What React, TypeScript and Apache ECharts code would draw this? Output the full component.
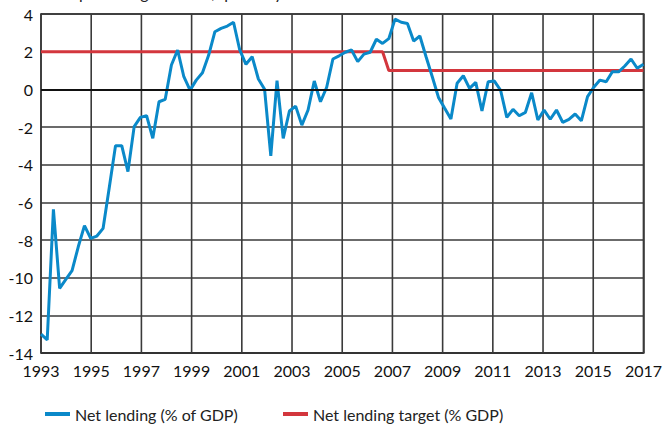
import React, { useEffect, useRef } from "react";
import * as echarts from "echarts";

const yearLabels = ["1993","1995","1997","1999","2001","2003","2005","2007","2009","2011","2013","2015","2017"];

const netLending = [
  -13.0, -13.3, -6.37, -10.57, -10.09, -9.63, -8.36, -7.24,
  -7.91, -7.79, -7.38, -5.2, -2.99, -2.99, -4.37, -1.98,
  -1.49, -1.4, -2.6, -0.66, -0.53, 1.29, 2.09, 0.67,
  -0.04, 0.49, 0.88, 1.82, 3.06, 3.24, 3.36, 3.56,
  2.09, 1.33, 1.73, 0.55, 0.0, -3.53, 0.46, -2.6,
  -1.15, -0.89, -1.9, -1.1, 0.44, -0.66, 0.11, 1.61,
  1.78, 1.97, 2.09, 1.47, 1.87, 1.97, 2.66, 2.44,
  2.69, 3.73, 3.56, 3.5, 2.56, 2.83, 1.73, 0.67,
  -0.43, -1.01, -1.58, 0.32, 0.72, 0.05, 0.37, -1.15,
  0.4, 0.44, -0.05, -1.49, -1.06, -1.4, -1.22, -0.18,
  -1.63, -1.1, -1.59, -1.1, -1.75, -1.59, -1.31, -1.67,
  -0.39, 0.11, 0.49, 0.4, 0.93, 0.93, 1.24, 1.61,
  1.12, 1.33,
];

const lendingTarget = [
  2, 2, 2, 2, 2, 2, 2, 2, 2, 2, 2, 2, 2, 2, 2, 2,
  2, 2, 2, 2, 2, 2, 2, 2, 2, 2, 2, 2, 2, 2, 2, 2,
  2, 2, 2, 2, 2, 2, 2, 2, 2, 2, 2, 2, 2, 2, 2, 2,
  2, 2, 2, 2, 2, 2, 2, 2,
  1, 1, 1, 1, 1, 1, 1, 1, 1, 1, 1, 1, 1, 1, 1, 1,
  1, 1, 1, 1, 1, 1, 1, 1, 1, 1, 1, 1, 1, 1, 1, 1,
  1, 1, 1, 1, 1, 1, 1, 1, 1, 1,
];

const seriesNames = ["Net lending (% of GDP)", "Net lending target (% GDP)"];
const subtitle = "As a percentage of GDP, quarterly data";

const FONT = "Lato, 'Liberation Sans', sans-serif";
const Y_MIN = -14;
const Y_MAX = 4;
const GRID_COLOR = "#3a3a3a";

export default function App() {
  const ref = useRef<HTMLDivElement>(null);
  useEffect(() => {
    if (!ref.current) return;
    const chart = echarts.init(ref.current, null, { renderer: "svg" });
    const lastIndex = netLending.length - 1;
    const step = lastIndex / (yearLabels.length - 1);
    const toPairs = (arr: number[]) => arr.map((v, i) => [i, v]);
    const gridPositions = yearLabels.map((_, k) => [k * step]);
    chart.setOption({
      animation: false,
      backgroundColor: "#ffffff",
      textStyle: { fontFamily: FONT },
      graphic: [
        {
          type: "text",
          x: 45,
          y: -16,
          style: { text: subtitle, fontSize: 16, fontFamily: FONT, fill: "#222" },
        },
      ],
      grid: {
        left: 41,
        right: 18,
        top: 14,
        bottom: 73,
      },
      legend: {
        data: seriesNames,
        left: 40,
        top: 401,
        icon: "rect",
        itemWidth: 25,
        itemHeight: 4,
        itemGap: 45,
        textStyle: { fontSize: 16, color: "#222", fontFamily: FONT },
      },
      xAxis: [
        {
          type: "value",
          min: 0,
          max: lastIndex,
          interval: step,
          axisLine: { show: true, onZero: false, lineStyle: { color: "#222", width: 1.5 } },
          axisTick: { show: false },
          axisLabel: {
            fontSize: 16,
            color: "#111",
            margin: 9,
            fontFamily: FONT,
            showMaxLabel: true,
            formatter: (v: number) => yearLabels[Math.round(v / step)] ?? "",
          },
          splitLine: { show: false },
        },
        {
          type: "value",
          min: 0,
          max: lastIndex,
          position: "top",
          axisLine: { show: true, onZero: false, lineStyle: { color: "#333", width: 1.5 } },
          axisTick: { show: false },
          axisLabel: { show: false },
          splitLine: { show: false },
        },
      ],
      yAxis: [
        {
          type: "value",
          min: Y_MIN,
          max: Y_MAX,
          interval: 2,
          axisLine: { show: true, onZero: false, lineStyle: { color: "#222", width: 1.5 } },
          axisTick: { show: false },
          axisLabel: { fontSize: 16, color: "#111", margin: 8, fontFamily: FONT },
          splitLine: { show: true, lineStyle: { color: GRID_COLOR, width: 1.6 } },
        },
        {
          type: "value",
          min: Y_MIN,
          max: Y_MAX,
          position: "right",
          axisLine: { show: true, onZero: false, lineStyle: { color: "#333", width: 1.5 } },
          axisTick: { show: false },
          axisLabel: { show: false },
          splitLine: { show: false },
        },
      ],
      series: [
        {
          name: "vgrid",
          type: "custom",
          silent: true,
          z: 1,
          data: gridPositions,
          encode: { x: 0 },
          renderItem: (params: any, api: any) => {
            const top = api.coord([api.value(0), Y_MAX]);
            const bottom = api.coord([api.value(0), Y_MIN]);
            return {
              type: "rect",
              shape: { x: top[0] - 0.8, y: top[1], width: 1.6, height: bottom[1] - top[1] },
              style: { fill: GRID_COLOR },
            };
          },
        },
        {
          name: "zero",
          type: "line",
          data: [],
          z: 2,
          silent: true,
          markLine: {
            silent: true,
            symbol: ["none", "none"],
            label: { show: false },
            lineStyle: { color: "#111", width: 2, type: "solid" },
            data: [{ yAxis: 0 }],
          },
        },
        {
          name: seriesNames[1],
          type: "line",
          data: toPairs(lendingTarget),
          showSymbol: false,
          symbol: "none",
          lineStyle: { color: "#d3363d", width: 3 },
          itemStyle: { color: "#d3363d" },
          z: 3,
        },
        {
          name: seriesNames[0],
          type: "line",
          data: toPairs(netLending),
          showSymbol: false,
          symbol: "none",
          lineStyle: { color: "#0a89c9", width: 3 },
          itemStyle: { color: "#0a89c9" },
          z: 4,
        },
      ],
    });
    return () => chart.dispose();
  }, []);
  return <div ref={ref} style={{ width: 665, height: 426, position: "absolute", left: 0, top: 0 }} />;
}
